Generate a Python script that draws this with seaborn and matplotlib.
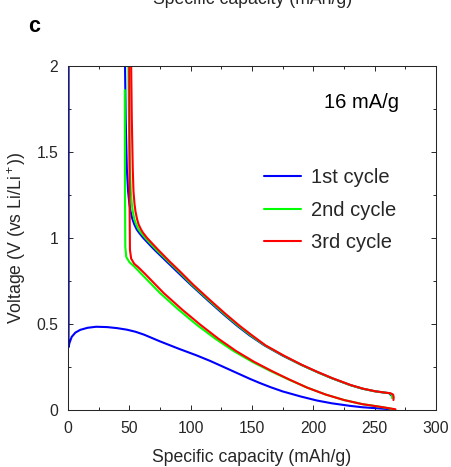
import numpy as np
import pandas as pd
import matplotlib
matplotlib.use("Agg")
import matplotlib.pyplot as plt
from matplotlib.lines import Line2D
from matplotlib.ticker import MultipleLocator
import seaborn as sns

# values (capacity in mAh/g, voltage in V)
cycles = ["1st cycle", "2nd cycle", "3rd cycle"]
colors = ["#0000ff", "#00ff00", "#ff0000"]

c1_dis_cap = [0.5, 0.5, 0.4, 1.2, 3, 6, 10, 16, 23, 32, 40, 48, 55, 62, 75, 90, 105, 116,
              130, 148, 156, 165, 175, 190, 203, 215, 230, 240, 252, 262]
c1_dis_v = [2.0, 0.5, 0.365, 0.39, 0.425, 0.45, 0.466, 0.478, 0.484, 0.482, 0.476, 0.467,
            0.455, 0.438, 0.399, 0.357, 0.317, 0.285, 0.240, 0.182, 0.158, 0.133, 0.108,
            0.078, 0.055, 0.039, 0.024, 0.016, 0.01, 0.005]

c1_chg_cap = [46.5, 47.0, 48.0, 49.0, 50.0, 51.0, 52.5, 54, 56, 58, 61.4, 70, 80, 89, 100,
              115, 127, 138, 148, 160, 175, 190, 203, 215, 230, 240, 250, 258, 262, 263]
c1_chg_v = [2.0, 1.7, 1.4, 1.27, 1.2, 1.155, 1.11, 1.08, 1.05, 1.03, 1.0, 0.935, 0.866,
            0.804, 0.729, 0.631, 0.555, 0.489, 0.434, 0.376, 0.316, 0.263, 0.221, 0.185,
            0.145, 0.124, 0.109, 0.101, 0.098, 0.088]

c2_dis_cap = [46.3, 46.5, 46.7, 47.5, 50, 54.6, 60, 75, 90, 105, 120, 135, 150, 165, 180,
              195, 210, 225, 240, 255, 266]
c2_dis_v = [1.86, 1.2, 0.95, 0.89, 0.86, 0.83, 0.79, 0.68, 0.584, 0.495, 0.415, 0.343,
            0.281, 0.227, 0.177, 0.13, 0.09, 0.058, 0.034, 0.018, 0.004]

c2_chg_cap = [49.3, 49.6, 50.5, 51.2, 52.0, 52.8, 54.0, 55.5, 57.5, 59.5, 63, 71.5, 81.5,
              90.5, 101, 116, 128, 139, 149, 160.5, 175.5, 190, 203, 215, 230, 240, 250,
              258, 262.5, 264, 264.2]
c2_chg_v = [2.0, 1.7, 1.4, 1.27, 1.2, 1.155, 1.11, 1.08, 1.05, 1.03, 1.0, 0.935, 0.866,
            0.804, 0.729, 0.631, 0.555, 0.489, 0.434, 0.376, 0.316, 0.263, 0.221, 0.185,
            0.145, 0.124, 0.109, 0.101, 0.097, 0.088, 0.07]

c3_dis_cap = [50, 50.2, 50.5, 51.5, 54, 57.3, 63, 78, 93, 108, 122.5, 137, 151.5, 166,
              180.5, 195, 210, 225, 240, 255, 267]
c3_dis_v = [2.0, 1.2, 0.93, 0.88, 0.85, 0.83, 0.79, 0.68, 0.584, 0.495, 0.415, 0.343,
            0.281, 0.227, 0.177, 0.13, 0.09, 0.058, 0.034, 0.018, 0.004]

c3_chg_cap = [51.5, 52.0, 52.8, 53.4, 54.2, 55.0, 56.3, 57.5, 59.5, 61.2, 64.5, 73, 82.5,
              91.5, 102, 117, 129, 140, 150, 161, 176, 190.5, 203.5, 215.5, 230.5, 240.5,
              250.5, 258.5, 263, 265, 265.5, 265.3]
c3_chg_v = [2.0, 1.7, 1.4, 1.27, 1.2, 1.155, 1.11, 1.08, 1.05, 1.03, 1.0, 0.935, 0.866,
            0.804, 0.729, 0.631, 0.555, 0.489, 0.434, 0.376, 0.316, 0.263, 0.221, 0.185,
            0.145, 0.124, 0.109, 0.101, 0.097, 0.09, 0.075, 0.058]

x_ticks = [0, 50, 100, 150, 200, 250, 300]
y_ticks = [0, 0.5, 1, 1.5, 2]
y_tick_labels = ["0", "0.5", "1", "1.5", "2"]

# long-form table for seaborn
parts = [
    (cycles[0], "dis", c1_dis_cap, c1_dis_v), (cycles[0], "chg", c1_chg_cap, c1_chg_v),
    (cycles[1], "dis", c2_dis_cap, c2_dis_v), (cycles[1], "chg", c2_chg_cap, c2_chg_v),
    (cycles[2], "dis", c3_dis_cap, c3_dis_v), (cycles[2], "chg", c3_chg_cap, c3_chg_v),
]
frames = []
for cyc, branch, cap, v in parts:
    frames.append(pd.DataFrame({"cap": cap, "volt": v, "cycle": cyc,
                                "branch": cyc + "_" + branch}))
df = pd.concat(frames, ignore_index=True)

sns.set_theme(style="ticks")
plt.rcParams["font.family"] = ["Liberation Sans", "DejaVu Sans"]
plt.rcParams["mathtext.fontset"] = "custom"
plt.rcParams["mathtext.rm"] = "Liberation Sans"
plt.rcParams["mathtext.it"] = "Liberation Sans:italic"

txt = "#262626"
fig = plt.figure(figsize=(4.51, 4.67), dpi=100)
ax = fig.add_axes([68 / 451, 1 - 410 / 467, 368 / 451, 344 / 467])

sns.lineplot(data=df, x="cap", y="volt", hue="cycle", units="branch", estimator=None,
             sort=False, palette=dict(zip(cycles, colors)), hue_order=cycles,
             linewidth=1.5, legend=False, ax=ax)

ax.set_xlim(0, 300)
ax.set_ylim(0, 2)
ax.set_xticks(x_ticks)
ax.set_yticks(y_ticks)
ax.set_yticklabels(y_tick_labels)
ax.xaxis.set_minor_locator(MultipleLocator(25))
ax.yaxis.set_minor_locator(MultipleLocator(0.25))
ax.tick_params(which="both", direction="in", top=True, right=True, color=txt,
               width=0.7, labelcolor=txt, labelsize=11.3)
ax.tick_params(which="major", length=3.5)
ax.tick_params(which="minor", length=2)
ax.tick_params(axis="x", pad=8)
ax.tick_params(axis="y", pad=7)
for sp in ax.spines.values():
    sp.set_color(txt)
    sp.set_linewidth(0.75)

ax.set_xlabel("Specific capacity (mAh/g)", fontsize=12.7, color=txt)
ax.set_ylabel("Voltage (V (vs Li/Li$^+$))", fontsize=12.7, color=txt)
ax.xaxis.set_label_coords(0.5, -0.112)
ax.yaxis.set_label_coords(-0.11, 0.5)

handles = [Line2D([], [], color=c, lw=1.5) for c in colors]
ax.legend(handles, cycles, loc="upper left", bbox_to_anchor=(264 / 451, 1 - 168 / 467),
          bbox_transform=fig.transFigure, frameon=False, fontsize=14.5,
          handlelength=1.85, handletextpad=0.5, labelspacing=0.68,
          borderpad=0, borderaxespad=0)

fig.text(362 / 451, 1 - 102 / 467, "16 mA/g", ha="center", va="center",
         fontsize=14.5, color="black")
fig.text(34 / 451, 1 - 26 / 467, "c", ha="center", va="center", fontsize=15.5,
         fontweight="bold", color="black")
fig.text(253 / 451, 1 - 4 / 467, "Specific capacity (mAh/g)", ha="center",
         va="baseline", fontsize=12.7, color=txt)

fig.savefig("out.png", dpi=100)
